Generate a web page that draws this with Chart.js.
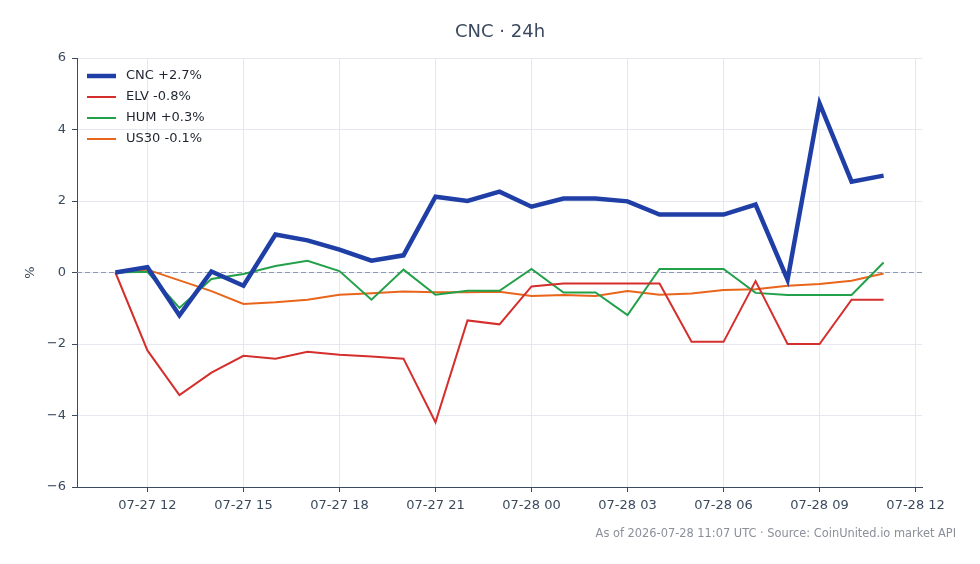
<!DOCTYPE html>
<html>
<head>
<meta charset="utf-8">
<script src="https://cdn.jsdelivr.net/npm/chart.js@4"></script>
<style>
  html, body { margin: 0; padding: 0; background: #ffffff; }
  #wrap { width: 980px; height: 564px; }
</style>
</head>
<body>
<div id="wrap"><canvas id="cncChart" width="980" height="564"></canvas></div>
<script>
// hourly points, 07-27 11:00 .. 07-28 11:00 UTC
var categories = ["07-27 11", "07-27 12", "07-27 13", "07-27 14", "07-27 15", "07-27 16", "07-27 17",
    "07-27 18", "07-27 19", "07-27 20", "07-27 21", "07-27 22", "07-27 23", "07-28 00", "07-28 01",
    "07-28 02", "07-28 03", "07-28 04", "07-28 05", "07-28 06", "07-28 07", "07-28 08", "07-28 09",
    "07-28 10", "07-28 11"];

var cncValues = [0, 0.15, -1.2, 0.03, -0.37, 1.06, 0.9, 0.64, 0.33, 0.48, 2.12, 2.0, 2.26, 1.84,
    2.07, 2.07, 1.99, 1.62, 1.62, 1.62, 1.9, -0.2, 4.73, 2.54, 2.71];
var elvValues = [0, -2.18, -3.43, -2.8, -2.33, -2.41, -2.22, -2.3, -2.35, -2.41, -4.19, -1.34, -1.45,
    -0.39, -0.31, -0.31, -0.31, -0.31, -1.94, -1.94, -0.24, -2.0, -2.0, -0.76, -0.76];
var humValues = [0, 0.02, -0.99, -0.18, -0.04, 0.18, 0.33, 0.04, -0.76, 0.08, -0.62, -0.51, -0.51,
    0.1, -0.56, -0.56, -1.19, 0.1, 0.1, 0.1, -0.57, -0.63, -0.63, -0.63, 0.28];
var us30Values = [0, 0.08, -0.22, -0.52, -0.88, -0.83, -0.76, -0.62, -0.58, -0.53, -0.55, -0.55, -0.54,
    -0.66, -0.63, -0.66, -0.52, -0.62, -0.59, -0.49, -0.47, -0.37, -0.32, -0.23, -0.03];

var seriesNames = ["CNC +2.7%", "ELV -0.8%", "HUM +0.3%", "US30 -0.1%"];
var seriesColors = ["#1f3fa6", "#d42f2c", "#23a04a", "#e8651b"];
var seriesWidths = [4.5, 2, 2, 2];

// x ticks every 3h, as hour offsets from the first point
var tickHours = [1, 4, 7, 10, 13, 16, 19, 22, 25];
var tickLabels = ["07-27 12", "07-27 15", "07-27 18", "07-27 21", "07-28 00", "07-28 03",
    "07-28 06", "07-28 09", "07-28 12"];

var titleText = "CNC \u00b7 24h";
var footText = "As of 2026-07-28 11:07 UTC \u00b7 Source: CoinUnited.io market API";

var textColor = "#3b4a5e";
var gridColor = "#e6e8ef";
var fontFamily = "'DejaVu Sans', sans-serif";

function to_points(values) {
    return values.map(function (v, i) { return { x: i, y: v }; });
}

var allValues = [cncValues, elvValues, humValues, us30Values];
var datasets = allValues.map(function (vals, i) {
    return {
        label: seriesNames[i],
        data: to_points(vals),
        borderColor: seriesColors[i],
        backgroundColor: seriesColors[i],
        borderWidth: seriesWidths[i],
        pointRadius: 0,
        tension: 0,
        fill: false,
        order: i,
    };
});

var decorations = {
    id: "decorations",
    beforeDatasetsDraw: function (chart) {
        var ctx = chart.ctx;
        var area = chart.chartArea;
        var y0 = chart.scales.y.getPixelForValue(0);
        ctx.save();
        ctx.strokeStyle = "#8f99b5";
        ctx.lineWidth = 1;
        ctx.setLineDash([5, 3]);
        ctx.beginPath();
        ctx.moveTo(area.left, y0);
        ctx.lineTo(area.right, y0);
        ctx.stroke();
        ctx.restore();
    },
    afterDraw: function (chart) {
        var ctx = chart.ctx;
        var area = chart.chartArea;
        ctx.save();
        // title
        ctx.fillStyle = textColor;
        ctx.font = "18px " + fontFamily;
        ctx.textAlign = "center";
        ctx.textBaseline = "middle";
        ctx.fillText(titleText, 500, 32);
        // y axis title
        ctx.save();
        ctx.translate(31, (area.top + area.bottom) / 2);
        ctx.rotate(-Math.PI / 2);
        ctx.font = "13px " + fontFamily;
        ctx.fillText("%", 0, 0);
        ctx.restore();
        // footnote
        ctx.fillStyle = "#8a8f99";
        ctx.font = "11.4px " + fontFamily;
        ctx.textAlign = "right";
        ctx.fillText(footText, 956, 534);
        // legend
        ctx.textAlign = "left";
        ctx.font = "13px " + fontFamily;
        for (var i = 0; i < seriesNames.length; i++) {
            var ly = 76 + i * 21;
            ctx.strokeStyle = seriesColors[i];
            ctx.lineWidth = seriesWidths[i];
            ctx.beginPath();
            ctx.moveTo(87, ly);
            ctx.lineTo(116, ly);
            ctx.stroke();
            ctx.fillStyle = "#1e2530";
            ctx.fillText(seriesNames[i], 126, ly);
        }
        ctx.restore();
    },
};

var config = {
    type: "line",
    data: { datasets: datasets },
    options: {
        responsive: false,
        animation: false,
        layout: { padding: { top: 58, right: 58, bottom: 0, left: 0 } },
        plugins: {
            legend: { display: false },
            title: { display: false },
            tooltip: { enabled: false },
        },
        scales: {
            x: {
                type: "linear",
                min: -1.2,
                max: 25.2,
                afterFit: function (scale) { scale.height = 77; },
                afterBuildTicks: function (scale) {
                    scale.ticks = tickHours.map(function (h) { return { value: h }; });
                },
                ticks: {
                    autoSkip: false,
                    maxRotation: 0,
                    padding: 6,
                    color: textColor,
                    font: { family: fontFamily, size: 13 },
                    callback: function (value) {
                        var idx = tickHours.indexOf(value);
                        return idx >= 0 ? tickLabels[idx] : "";
                    },
                },
                grid: { color: gridColor, tickColor: textColor, tickLength: 5, drawTicks: true },
                border: { color: textColor, width: 1 },
            },
            y: {
                min: -6,
                max: 6,
                afterFit: function (scale) { scale.width = 77; },
                ticks: {
                    stepSize: 2,
                    padding: 6,
                    color: textColor,
                    font: { family: fontFamily, size: 13 },
                    callback: function (value) {
                        return value < 0 ? "\u2212" + Math.abs(value) : String(value);
                    },
                },
                grid: { color: gridColor, tickColor: textColor, tickLength: 5 },
                border: { color: textColor, width: 1 },
            },
        },
    },
    plugins: [decorations],
};

var cncChart = new Chart("cncChart", config);
</script>
</body>
</html>
